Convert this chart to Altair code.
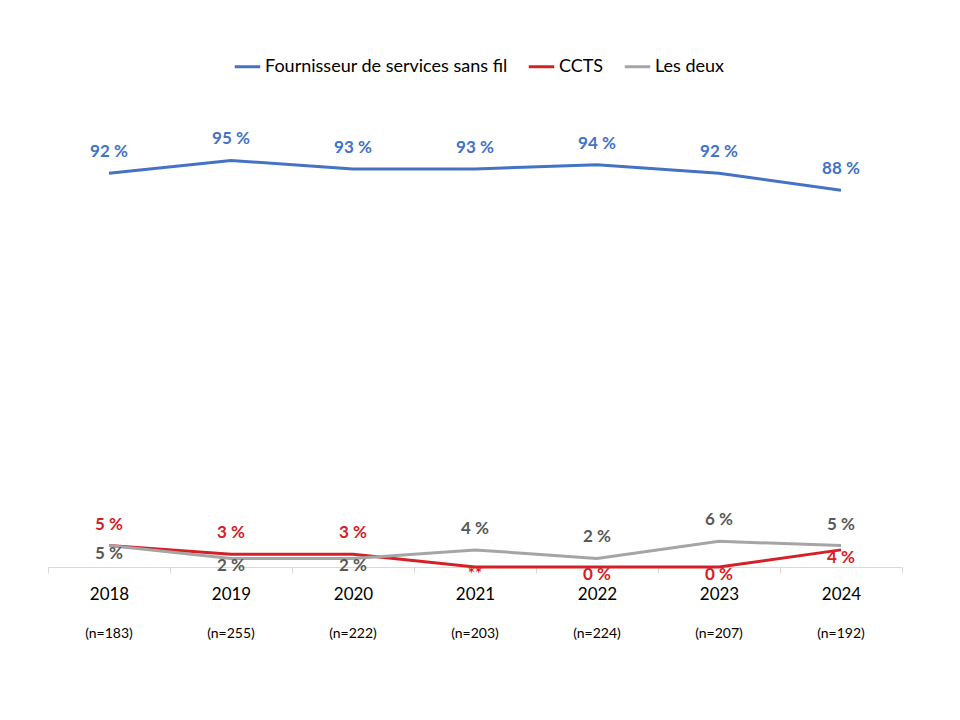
import altair as alt
import pandas as pd

years = ["2018", "2019", "2020", "2021", "2022", "2023", "2024"]
n_labels = ["(n=183)", "(n=255)", "(n=222)", "(n=203)", "(n=224)", "(n=207)", "(n=192)"]

series_names = ["Fournisseur de services sans fil", "CCTS", "Les deux"]
colors = ["#4472C4", "#D42027", "#A5A5A5"]
label_colors = ["#4472C4", "#D42027", "#595959"]

fournisseur = [92, 95, 93, 93, 94, 92, 88]
ccts = [5, 3, 3, 0, 0, 0, 4]
les_deux = [5, 2, 2, 4, 2, 6, 5]

fournisseur_labels = ["92 %", "95 %", "93 %", "93 %", "94 %", "92 %", "88 %"]
ccts_labels = ["5 %", "3 %", "3 %", "**", "0 %", "0 %", "4 %"]
les_deux_labels = ["5 %", "2 %", "2 %", "4 %", "2 %", "6 %", "5 %"]

# label side relative to the point
fournisseur_side = ["above"] * 7
ccts_side = ["above", "above", "above", "below", "below", "below", "below"]
les_deux_side = ["below", "below", "below", "above", "above", "above", "above"]

rows = []
for name, vals, labs, sides in [
    (series_names[0], fournisseur, fournisseur_labels, fournisseur_side),
    (series_names[1], ccts, ccts_labels, ccts_side),
    (series_names[2], les_deux, les_deux_labels, les_deux_side),
]:
    for i, y in enumerate(years):
        rows.append({"year": y, "series": name, "value": vals[i],
                     "label": labs[i], "side": sides[i], "order": series_names.index(name)})
df = pd.DataFrame(rows)
ndf = pd.DataFrame({"year": years, "n": n_labels})

FONT = "Lato"
W, H = 854, 428

xscale = alt.Scale(type="band", domain=years, paddingInner=0, paddingOuter=0)
x_enc = alt.X("year:O", scale=xscale, bandPosition=0.5,
              axis=alt.Axis(title=None, labelAngle=0, labelFontSize=17, labelColor="#000000",
                            labelFont=FONT, tickBand="extent", tickSize=6, tickColor="#D9D9D9",
                            domainColor="#D9D9D9", labelPadding=13, grid=False))
yscale = alt.Scale(domain=[0, 100])
color_scale = alt.Scale(domain=series_names, range=colors)
text_color_scale = alt.Scale(domain=series_names, range=label_colors)

lines = alt.Chart(df).mark_line(strokeWidth=3).encode(
    x=x_enc,
    y=alt.Y("value:Q", scale=yscale, axis=None),
    color=alt.Color("series:N", scale=color_scale, sort=series_names,
                    legend=alt.Legend(title=None, orient="none", direction="horizontal",
                                      legendX=185, legendY=-87, symbolType="stroke",
                                      symbolStrokeWidth=3, symbolSize=650, labelFontSize=18,
                                      labelFont=FONT, labelColor="#000000", columnPadding=14,
                                      labelOffset=3, padding=0, labelLimit=0)),
    order=alt.Order("order:Q"),
    detail="series:N",
)

def labels(side, dy):
    return alt.Chart(df).transform_filter(alt.datum.side == side).mark_text(
        fontSize=17, fontWeight="bold", font=FONT, dy=dy, baseline="middle"
    ).encode(
        x=alt.X("year:O", scale=xscale, bandPosition=0.5),
        y=alt.Y("value:Q", scale=yscale),
        text="label:N",
        color=alt.Color("series:N", scale=text_color_scale, legend=None),
    )

above = labels("above", -21)
below = labels("below", 8)

nlab = alt.Chart(ndf).mark_text(fontSize=14, font=FONT, color="#000000", baseline="middle").encode(
    x=alt.X("year:O", scale=xscale, bandPosition=0.5),
    y=alt.value(H + 67),
    text="n:N",
)

chart = alt.layer(lines, above, below, nlab).resolve_scale(color="independent").properties(
    width=W, height=H,
    autosize=alt.AutoSizeParams(type="none"),
    padding={"left": 40, "top": 131, "right": 50, "bottom": 100},
).configure_view(stroke=None)

chart.save("out.html", embed_options={"renderer": "svg", "actions": False})
